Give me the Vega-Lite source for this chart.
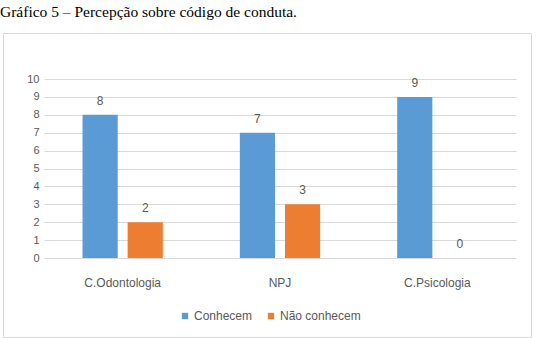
{
  "$schema": "https://vega.github.io/schema/vega-lite/v6.json",
  "width": 528,
  "height": 304,
  "padding": {"left": 0, "right": 4, "top": 4, "bottom": 2},
  "background": "white",
  "title": {
    "text": "Gráfico 5 – Percepção sobre código de conduta.",
    "anchor": "start",
    "font": "Liberation Serif",
    "fontSize": 15.5,
    "fontWeight": "normal",
    "color": "#000000",
    "offset": 13,
    "dx": -3
  },
  "config": {
    "view": {"stroke": "#D9D9D9", "strokeWidth": 1},
    "font": "Liberation Sans"
  },
  "data": {
    "values": [
      {"curso": "C.Odontologia", "grupo": "Conhecem", "valor": 8},
      {"curso": "C.Odontologia", "grupo": "Não conhecem", "valor": 2},
      {"curso": "NPJ", "grupo": "Conhecem", "valor": 7},
      {"curso": "NPJ", "grupo": "Não conhecem", "valor": 3},
      {"curso": "C.Psicologia", "grupo": "Conhecem", "valor": 9},
      {"curso": "C.Psicologia", "grupo": "Não conhecem", "valor": 0}
    ]
  },
  "encoding": {
    "x": {
      "field": "curso",
      "type": "nominal",
      "sort": ["C.Odontologia", "NPJ", "C.Psicologia"],
      "scale": {"range": [41, 513], "paddingInner": 0, "paddingOuter": 0},
      "axis": {
        "title": null,
        "labelAngle": 0,
        "ticks": false,
        "tickSize": 0,
        "domain": false,
        "labelPadding": -60,
        "labelFont": "Liberation Sans",
        "labelFontSize": 12,
        "labelColor": "#595959"
      }
    },
    "xOffset": {
      "field": "grupo",
      "type": "nominal",
      "sort": ["Conhecem", "Não conhecem"],
      "scale": {"paddingInner": 0.22, "paddingOuter": 0.854}
    },
    "y": {
      "field": "valor",
      "type": "quantitative",
      "scale": {"domain": [0, 10], "range": [225, 46], "nice": false, "zero": true},
      "axis": {
        "title": null,
        "values": [0, 1, 2, 3, 4, 5, 6, 7, 8, 9, 10],
        "ticks": false,
        "tickSize": 0,
        "domain": false,
        "labelPadding": -36,
        "labelFont": "Liberation Sans",
        "labelFontSize": 11,
        "labelColor": "#595959",
        "grid": true,
        "gridColor": "#D9D9D9",
        "gridWidth": 1
      }
    }
  },
  "layer": [
    {
      "mark": {"type": "bar"},
      "encoding": {
        "y2": {"datum": 0},
        "color": {
          "field": "grupo",
          "type": "nominal",
          "sort": ["Conhecem", "Não conhecem"],
          "scale": {"domain": ["Conhecem", "Não conhecem"], "range": ["#5B9BD5", "#ED7D31"]},
          "legend": {
            "title": null,
            "orient": "none",
            "legendX": 176,
            "legendY": 277,
            "direction": "horizontal",
            "symbolType": "square",
            "symbolSize": 40,
            "symbolStrokeWidth": 0,
            "labelFont": "Liberation Sans",
            "labelFontSize": 12,
            "labelColor": "#595959",
            "columnPadding": 12,
            "labelOffset": 3
          }
        }
      }
    },
    {
      "mark": {"type": "text", "baseline": "bottom", "dy": -7, "font": "Liberation Sans", "fontSize": 12, "color": "#595959"},
      "encoding": {
        "text": {"field": "valor", "type": "quantitative"}
      }
    }
  ]
}
